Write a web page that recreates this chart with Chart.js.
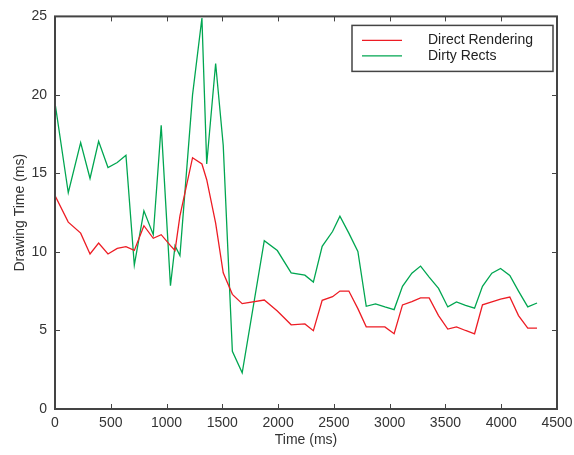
<!DOCTYPE html>
<html>
<head>
<meta charset="utf-8">
<script src="https://cdn.jsdelivr.net/npm/chart.js@4/dist/chart.umd.min.js"></script>
<style>
  html, body { margin: 0; padding: 0; background: #fff; }
  #wrap { width: 574px; height: 455px; }
</style>
</head>
<body>
<div id="wrap"><canvas id="myChart" width="574" height="455"></canvas></div>
<script>
// data
const timeMs = [0, 119, 230, 314, 391, 475, 558, 636, 711, 797, 881, 952, 1035, 1076, 1120, 1233, 1317, 1360, 1440, 1508, 1590, 1678, 1876, 1993, 2117, 2240, 2316, 2395, 2488, 2554, 2634, 2715, 2790, 2873, 2957, 3040, 3115, 3199, 3277, 3354, 3438, 3521, 3599, 3680, 3761, 3832, 3916, 3994, 4077, 4155, 4238, 4321];
const directRendering = [13.6, 11.9, 11.2, 9.87, 10.57, 9.87, 10.23, 10.34, 10.1, 11.67, 10.87, 11.1, 10.4, 10.09, 12.3, 16.0, 15.6, 14.6, 11.84, 8.67, 7.3, 6.71, 6.94, 6.24, 5.36, 5.42, 4.99, 6.92, 7.15, 7.51, 7.51, 6.39, 5.23, 5.23, 5.23, 4.79, 6.63, 6.84, 7.07, 7.07, 5.95, 5.09, 5.23, 5.0, 4.79, 6.63, 6.82, 7.0, 7.13, 5.95, 5.15, 5.15];
const dirtyRects = [19.5, 13.77, 16.96, 14.68, 17.05, 15.38, 15.7, 16.16, 9.16, 12.62, 11.1, 18.06, 7.85, 10.4, 9.77, 20.0, 24.9, 15.6, 22.0, 16.8, 3.67, 2.3, 10.72, 10.09, 8.67, 8.52, 8.08, 10.36, 11.3, 12.28, 11.2, 10.03, 6.54, 6.69, 6.5, 6.33, 7.81, 8.65, 9.1, 8.4, 7.68, 6.5, 6.82, 6.6, 6.42, 7.81, 8.65, 8.95, 8.5, 7.51, 6.5, 6.75];
const seriesNames = ["Direct Rendering", "Dirty Rects"];
const seriesColors = ["#ed1c24", "#00a651"];

const FONT = "'Liberation Sans', Arial, sans-serif";
const TEXT = "#333";
const FRAME = "#444";

function toPoints(ys) {
  return ys.map((y, i) => ({ x: timeMs[i], y: y }));
}

// frame with inward ticks on all four sides
const boxFrame = {
  id: "boxFrame",
  afterDatasetsDraw(chart) {
    const { ctx, chartArea: { top, bottom, left, right }, scales: { x, y } } = chart;
    ctx.save();
    ctx.strokeStyle = FRAME;
    ctx.lineWidth = 1;
    const tl = 5;
    ctx.beginPath();
    x.ticks.forEach(t => {
      const px = Math.round(x.getPixelForValue(t.value)) + 0.5;
      ctx.moveTo(px, bottom); ctx.lineTo(px, bottom - tl);
      ctx.moveTo(px, top); ctx.lineTo(px, top + tl);
    });
    y.ticks.forEach(t => {
      const py = Math.round(y.getPixelForValue(t.value)) + 0.5;
      ctx.moveTo(left, py); ctx.lineTo(left + tl, py);
      ctx.moveTo(right, py); ctx.lineTo(right - tl, py);
    });
    ctx.stroke();
    ctx.lineWidth = 2;
    ctx.strokeRect(left, top, right - left, bottom - top);
    ctx.restore();
  },
};

// legend box in the upper right of the plot
const boxLegend = {
  id: "boxLegend",
  afterDraw(chart) {
    const { ctx, chartArea: { top, right } } = chart;
    const bx = right - 205, by = top + 9, bw = 201, bh = 46;
    ctx.save();
    ctx.fillStyle = "#fff";
    ctx.fillRect(bx, by, bw, bh);
    ctx.strokeStyle = FRAME;
    ctx.lineWidth = 1.5;
    ctx.strokeRect(bx, by, bw, bh);
    ctx.font = "14px " + FONT;
    ctx.textBaseline = "middle";
    seriesNames.forEach((name, i) => {
      const ly = by + 15 + i * 15.5;
      ctx.strokeStyle = seriesColors[i];
      ctx.lineWidth = 1.2;
      ctx.beginPath();
      ctx.moveTo(bx + 10, ly); ctx.lineTo(bx + 50, ly);
      ctx.stroke();
      ctx.fillStyle = "#222";
      ctx.fillText(name, bx + 76, ly);
    });
    ctx.restore();
  },
};

const config = {
  type: "line",
  data: {
    datasets: [
      {
        label: seriesNames[0],
        data: toPoints(directRendering),
        borderColor: seriesColors[0],
        borderWidth: 1.3,
        pointRadius: 0,
        tension: 0,
        fill: false,
      },
      {
        label: seriesNames[1],
        data: toPoints(dirtyRects),
        borderColor: seriesColors[1],
        borderWidth: 1.3,
        pointRadius: 0,
        tension: 0,
        fill: false,
      },
    ],
  },
  options: {
    responsive: false,
    animation: false,
    layout: { padding: { top: 13, right: 17, left: 0, bottom: 0 } },
    plugins: {
      legend: { display: false },
      tooltip: { enabled: false },
    },
    scales: {
      x: {
        type: "linear",
        min: 0,
        max: 4500,
        afterFit(scale) { scale.height = 46; scale.paddingRight = 0; },
        grid: { display: false, drawTicks: false },
        border: { display: false },
        ticks: {
          stepSize: 500,
          padding: 6,
          color: TEXT,
          font: { family: FONT, size: 14 },
          maxRotation: 0,
          callback: v => String(v),
        },
        title: {
          display: true,
          text: "Time (ms)",
          color: TEXT,
          font: { family: FONT, size: 14 },
          padding: { top: 0, bottom: 6 },
        },
      },
      y: {
        min: 0,
        max: 25,
        afterFit(scale) { scale.width = 55; },
        grid: { display: false, drawTicks: false },
        border: { display: false },
        ticks: {
          stepSize: 5,
          padding: 8,
          color: TEXT,
          font: { family: FONT, size: 14 },
        },
        title: {
          display: true,
          text: "Drawing Time (ms)",
          color: TEXT,
          font: { family: FONT, size: 14 },
          padding: { top: 12, bottom: 0 },
        },
      },
    },
  },
  plugins: [boxFrame, boxLegend],
};

const myChart = new Chart(document.getElementById("myChart"), config);
</script>
</body>
</html>
